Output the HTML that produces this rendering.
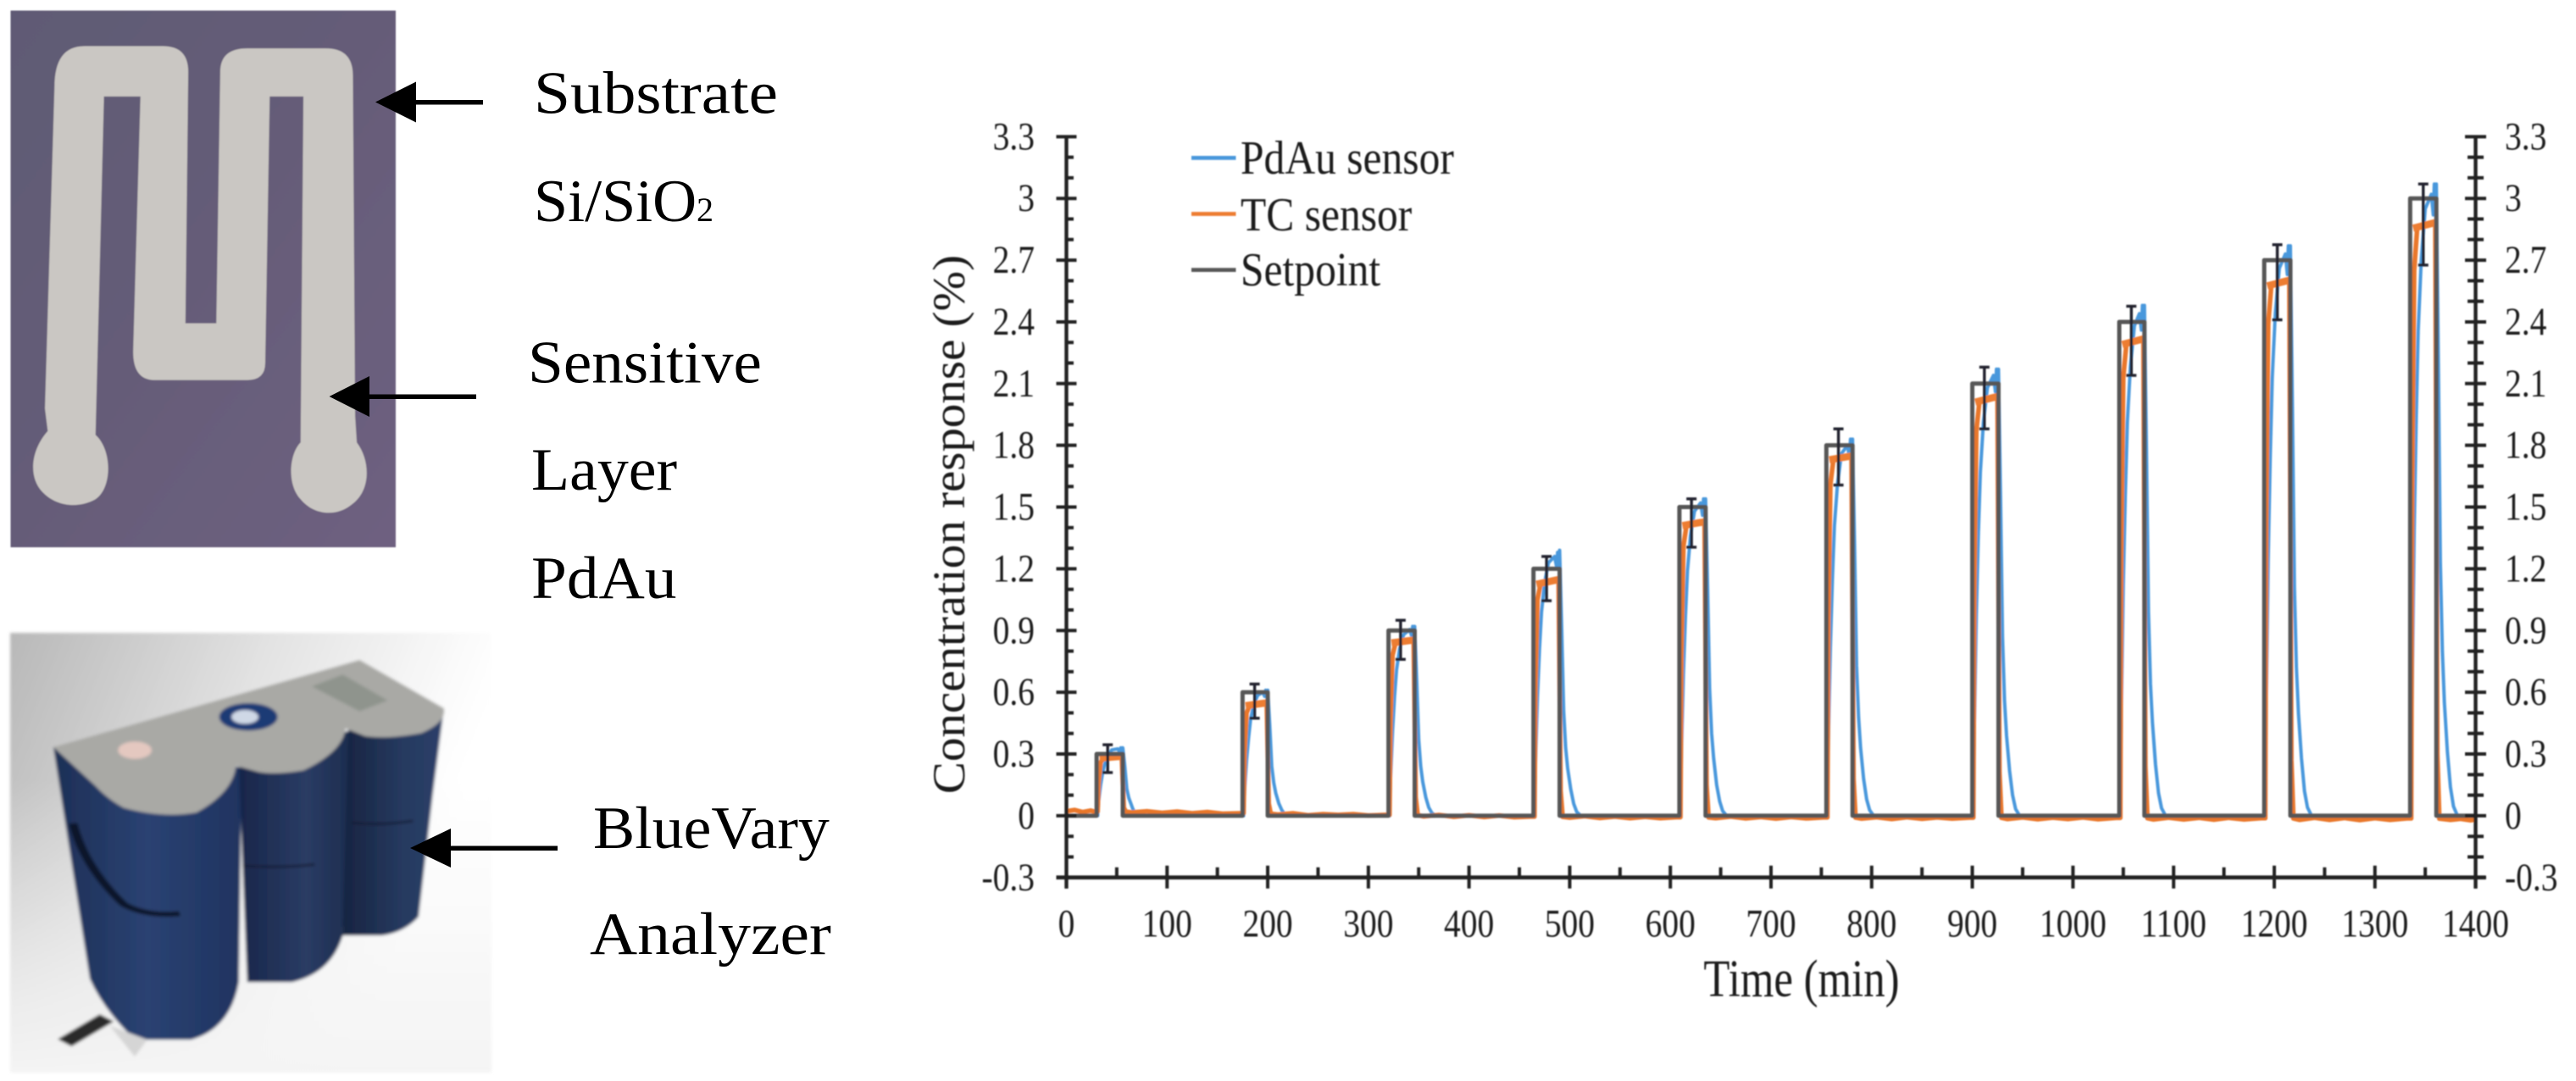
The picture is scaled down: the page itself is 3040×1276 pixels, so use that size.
<!DOCTYPE html>
<html lang="en">
<head>
<meta charset="utf-8">
<title>PdAu sensor and BlueVary analyzer concentration response</title>
<style>
html,body{margin:0;padding:0;background:#fff;}
svg{display:block;}
text{font-family:"Liberation Serif",serif;}
</style>
</head>
<body>
<svg id="figure" xmlns="http://www.w3.org/2000/svg" width="3040" height="1276" viewBox="0 0 3040 1276">
  <defs>
    <filter id="soft" filterUnits="userSpaceOnUse" x="0" y="0" width="3040" height="1276"><feGaussianBlur stdDeviation="0.9"/></filter>
    <filter id="softer" filterUnits="userSpaceOnUse" x="0" y="0" width="3040" height="1276"><feGaussianBlur stdDeviation="1.8"/></filter>
    <linearGradient id="substrateFill" x1="0" y1="0" x2="1" y2="1">
      <stop offset="0" stop-color="#5f5a74"/><stop offset="0.5" stop-color="#655c78"/><stop offset="1" stop-color="#6e6080"/>
    </linearGradient>
    <linearGradient id="photoBg" x1="0" y1="0" x2="0.95" y2="0.35">
      <stop offset="0" stop-color="#b8b8b8"/><stop offset="0.5" stop-color="#e2e2e2"/><stop offset="0.93" stop-color="#fdfdfd"/><stop offset="1" stop-color="#ffffff"/>
    </linearGradient>
    <linearGradient id="photoFloor" x1="0" y1="0" x2="0" y2="1">
      <stop offset="0" stop-color="#f4f4f4" stop-opacity="0"/><stop offset="1" stop-color="#f4f4f4" stop-opacity="1"/>
    </linearGradient>
    <linearGradient id="cylLeft" x1="0" y1="0" x2="1" y2="0">
      <stop offset="0" stop-color="#1d2f56"/><stop offset="0.5" stop-color="#2a4272"/><stop offset="1" stop-color="#1f3360"/>
    </linearGradient>
    <linearGradient id="cylMid" x1="0" y1="0" x2="1" y2="0">
      <stop offset="0" stop-color="#18264a"/><stop offset="0.6" stop-color="#2a3c64"/><stop offset="1" stop-color="#1c2c4e"/>
    </linearGradient>
    <linearGradient id="cylRight" x1="0" y1="0" x2="1" y2="0">
      <stop offset="0" stop-color="#172441"/><stop offset="0.6" stop-color="#263a60"/><stop offset="1" stop-color="#2b3f69"/>
    </linearGradient>
  </defs>

  <g id="sensor-photo" filter="url(#soft)">
    <rect x="12.5" y="12.5" width="454.5" height="633.5" fill="url(#substrateFill)"/>
    <path transform="scale(.6631,.4464)" fill="#cac7c3" d="M97 230 Q97 122 150 122 L290 122 Q335 122 335 190 L330 855 L385 855 L392 190 Q392 128 440 128 L580 128 Q628 128 628 200 L632 1100 L635 1170 C660 1220 660 1300 625 1335 C600 1365 560 1365 535 1320 C510 1280 515 1200 535 1170 L540 255 L480 255 L472 960 Q472 1005 440 1005 L275 1005 Q237 1005 237 930 L250 255 L185 255 L170 1150 C200 1190 200 1290 170 1320 C140 1345 100 1340 75 1300 C50 1260 55 1190 85 1140 L80 1080 Z"/>
  </g>

  <g id="analyzer-photo" filter="url(#softer)">
    <rect x="12" y="747" width="568" height="519" fill="url(#photoBg)"/>
    <rect x="12" y="920" width="568" height="346" fill="url(#photoFloor)"/>
    <g transform="translate(0,700) scale(.6631,.3674)">
      <path fill="url(#cylLeft)" d="M95 495 L430 560 L425 1250 Q410 1400 340 1435 L240 1435 Q185 1340 160 1240 Z"/>
      <path fill="url(#cylMid)" d="M425 560 L625 440 L610 1100 Q590 1220 520 1250 L440 1250 Z"/>
      <path fill="url(#cylRight)" d="M620 440 L790 370 L770 650 L745 1040 Q720 1090 680 1100 L610 1100 Z"/>
      <path fill="none" stroke="#131d36" stroke-width="7" d="M432 876 Q500 885 560 872"/>
      <path fill="none" stroke="#131d36" stroke-width="7" d="M625 738 Q680 748 735 732"/>
      <path fill="none" stroke="#0f1729" stroke-width="16" d="M130 740 Q150 880 220 1000 Q260 1040 320 1030"/>
      <path fill="#a9a9a5" d="M640 215 L790 370 Q795 415 750 450 Q690 470 650 460 L615 435 Q610 510 540 570 Q490 585 460 575 L420 555 Q415 640 350 705 Q290 725 220 690 Q190 660 170 620 L95 495 Z"/>
      <ellipse cx="442" cy="398" rx="52" ry="44" fill="#1c3a75"/>
      <ellipse cx="436" cy="398" rx="24" ry="22" fill="#cfd8e6"/>
      <ellipse cx="240" cy="505" rx="30" ry="28" fill="#e4c8c0"/>
      <path fill="#8f948d" d="M555 300 L610 262 L690 345 L640 380 Z"/>
      <path stroke="#2b2b2b" stroke-width="34" d="M115 1445 L190 1365"/>
      <path fill="#d5d5d5" d="M195 1390 L240 1490 L262 1435 Z"/>
    </g>
  </g>

  <g id="callouts" fill="#000">
    <g>
      <rect x="488" y="118" width="82" height="5.5"/><path d="M443 120.5 L491 96.5 L491 144.5 Z"/>
    </g>
    <g>
      <rect x="433" y="465.5" width="129" height="5.5"/><path d="M388.6 468 L436 444 L436 492 Z"/>
    </g>
    <g>
      <rect x="529" y="998.5" width="129" height="5.5"/><path d="M484 1001 L532 978 L532 1024 Z"/>
    </g>
    <text font-size="71" transform="translate(630,133.5) scale(1.09,1)">Substrate</text>
    <text font-size="71" transform="translate(630,261) scale(1.015,1)">Si/SiO</text>
    <text font-size="40" x="822" y="261">2</text>
    <text font-size="71" transform="translate(623,451.5) scale(1.06,1)">Sensitive</text>
    <text font-size="71" transform="translate(627,578) scale(1.04,1)">Layer</text>
    <text font-size="71" transform="translate(627,706) scale(1.06,1)">PdAu</text>
    <text font-size="71" transform="translate(700,1001) scale(1.04,1)">BlueVary</text>
    <text font-size="71" transform="translate(696,1126) scale(1.095,1)">Analyzer</text>
  </g>

  <g id="chart" filter="url(#soft)"></g>
</svg>

<script>
// ---- chart data ----
const xTickValues = [0,100,200,300,400,500,600,700,800,900,1000,1100,1200,1300,1400];
const xMinorTickValues = [50,150,250,350,450,550,650,750,850,950,1050,1150,1250,1350];
const yTickValues = [-0.3,0,0.3,0.6,0.9,1.2,1.5,1.8,2.1,2.4,2.7,3,3.3];
const yTickLabels = ["-0.3","0","0.3","0.6","0.9","1.2","1.5","1.8","2.1","2.4","2.7","3","3.3"];
const yMinorTickValues = [-0.2,-0.1,0.1,0.2,0.4,0.5,0.7,0.8,1.0,1.1,1.3,1.4,1.6,1.7,1.9,2.0,2.2,2.3,2.5,2.6,2.8,2.9,3.1,3.2];

const setpointStart = [30,175,320,464,609,755,900,1046,1190,1335];
const setpointEnd   = [56,200,346,490,635,781,926,1071,1216,1361];
const setpointLevel = [0.3,0.6,0.9,1.2,1.5,1.8,2.1,2.4,2.7,3.0];

const pdAuTimes = [0,
31,32,34,36,38,41,45,51,53,54,55,56,58,60,62,64,66,68,70,73,
176,177,179,181,183,186,190,195,197,198,199,200,202,204,206,208,211,214,217,221,
321,322,324,326,328,331,335,341,343,344,345,346,348,350,352,354,357,360,363,367,
465,466,468,470,472,475,479,485,487,488,489,490,492,494,496,498,501,504,507,511,
610,611,613,615,617,620,624,630,632,633,634,635,637,639,641,643,646,649,652,656,
756,757,759,761,763,766,770,776,778,779,780,781,783,785,787,789,792,795,798,802,
901,902,904,906,908,911,915,921,923,924,925,926,928,930,932,934,937,940,943,947,
1047,1048,1050,1052,1054,1057,1061,1066,1068,1069,1070,1071,1073,1075,1077,1079,1082,1085,1088,1092,
1191,1192,1194,1196,1198,1201,1205,1211,1213,1214,1215,1216,1218,1220,1222,1224,1227,1230,1233,1237,
1336,1337,1339,1341,1343,1346,1350,1356,1358,1359,1360,1361,1363,1365,1367,1369,1372,1375,1378,1382,
1400];
const pdAuValues = [0,
0,.07,.15,.21,.25,.29,.32,.325,.31,.33,.32,.33,.24,.13,.086,.06,.033,.015,.005,0,
0,.12,.27,.38,.47,.54,.585,.60,.58,.61,.585,.61,.44,.24,.16,.11,.06,.027,.009,0,
0,.18,.41,.58,.71,.81,.88,.905,.875,.92,.885,.92,.66,.37,.24,.165,.09,.04,.014,0,
0,.26,.58,.81,.99,1.13,1.23,1.26,1.21,1.28,1.23,1.29,.92,.51,.33,.23,.13,.058,.019,0,
0,.31,.69,.97,1.19,1.36,1.48,1.52,1.46,1.54,1.48,1.54,1.11,.62,.40,.28,.15,.07,.023,0,
0,.37,.82,1.15,1.41,1.61,1.76,1.80,1.74,1.83,1.76,1.83,1.32,.73,.48,.33,.18,.08,.027,0,
0,.43,.98,1.37,1.67,1.91,2.08,2.14,2.06,2.17,2.08,2.17,1.56,.87,.56,.39,.22,.10,.033,0,
0,.50,1.12,1.56,1.91,2.18,2.38,2.44,2.36,2.48,2.38,2.48,1.79,.99,.64,.45,.25,.11,.037,0,
0,.55,1.25,1.75,2.13,2.44,2.66,2.73,2.63,2.77,2.66,2.77,1.99,1.11,.72,.50,.28,.12,.04,0,
0,.61,1.38,1.93,2.36,2.70,2.95,3.02,2.92,3.07,2.95,3.07,2.21,1.23,.80,.55,.31,.14,.046,0,
0];

const tcTimes = [0,8,16,24,28,
31,32,34,37,55,57,59,
65,80,95,110,125,140,155,172,
176,177,179,182,199,201,203,
210,225,240,255,270,285,300,317,
321,322,324,327,345,347,349,
355,370,385,400,415,430,445,461,
465,466,468,471,489,491,493,
500,515,530,545,560,575,590,606,
610,611,613,616,634,636,638,
645,660,675,690,705,720,735,752,
756,757,759,762,780,782,784,
790,805,820,835,850,865,880,897,
901,902,904,907,925,927,929,
935,950,965,980,995,1010,1025,1043,
1047,1048,1050,1053,1070,1072,1074,
1080,1095,1110,1125,1140,1155,1170,1187,
1191,1192,1194,1197,1215,1217,1219,
1225,1240,1255,1270,1285,1300,1315,1332,
1336,1337,1339,1342,1360,1362,1364,
1375,1385,1395,1400];
const tcValues = [.022,.028,.018,.025,.02,
.02,.16,.26,.28,.29,.04,.02,
.016,.022,.014,.02,.012,.018,.01,.012,
.012,.30,.50,.535,.55,.06,.01,
.006,.012,.002,.008,.004,.008,.001,.004,
.004,.46,.78,.84,.855,.09,.003,
-.003,.004,-.005,.002,-.006,.001,-.007,-.004,
-.004,.62,1.05,1.125,1.15,.12,-.005,
-.009,-.002,-.011,-.004,-.012,-.005,-.012,-.007,
-.007,.78,1.31,1.41,1.43,.15,-.008,
-.012,-.004,-.013,-.006,-.014,-.006,-.013,-.008,
-.008,.95,1.61,1.73,1.75,.18,-.009,
-.014,-.007,-.016,-.007,-.015,-.008,-.014,-.009,
-.009,1.1,1.87,2.01,2.04,.21,-.01,
-.016,-.008,-.017,-.009,-.016,-.008,-.017,-.01,
-.01,1.26,2.13,2.29,2.32,.24,-.012,
-.018,-.009,-.018,-.01,-.019,-.01,-.018,-.012,
-.012,1.42,2.39,2.575,2.605,.27,-.013,
-.02,-.01,-.02,-.011,-.021,-.012,-.02,-.013,
-.013,1.57,2.65,2.855,2.885,.3,-.014,
-.02,-.015,-.022,-.018];

const tcPlateauStartTime  = [33,178,323,467,612,758,903,1049,1193,1338];
const tcPlateauEndTime    = [57,201,347,491,636,782,927,1072,1217,1362];
const tcPlateauStartValue = [.28,.535,.84,1.125,1.41,1.73,2.01,2.29,2.575,2.855];
const tcPlateauEndValue   = [.29,.55,.855,1.15,1.43,1.75,2.04,2.32,2.605,2.885];

const errorBarTime  = [41,187,332,477,621,767,912,1058,1203,1348];
const errorBarHigh  = [.345,.64,.95,1.26,1.54,1.88,2.18,2.476,2.775,3.07];
const errorBarLow   = [.21,.474,.76,1.045,1.305,1.607,1.88,2.14,2.41,2.676];

const legendLabels = ["PdAu sensor","TC sensor","Setpoint"];
const legendColors = ["#4a98dc","#ed7d31","#595959"];

// ---- axis functions ----
const xScale = t => 1258.5 + (2921.5 - 1258.5) * t / 1400;
const yScale = v => 962.9 - 242.9 * v;

const NS = "http://www.w3.org/2000/svg";
const chart = document.getElementById("chart");
function mk(tag, attrs, parent) {
  const el = document.createElementNS(NS, tag);
  for (const k in attrs) el.setAttribute(k, attrs[k]);
  (parent || chart).appendChild(el);
  return el;
}
function polyPoints(ts, vs) {
  return ts.map((t, i) => xScale(t).toFixed(2) + "," + yScale(vs[i]).toFixed(2)).join(" ");
}

// ---- series ----
const pdAuLine = mk("polyline", {points: polyPoints(pdAuTimes, pdAuValues), fill: "none", stroke: "#4a98dc", "stroke-width": 4, "stroke-linejoin": "round"});



const tcLine = mk("polyline", {points: polyPoints(tcTimes, tcValues), fill: "none", stroke: "#e9772b", "stroke-width": 5.5, "stroke-linejoin": "round"});



setpointLevel.forEach((lv, i) => {
  const band = mk("line", {x1: xScale(tcPlateauStartTime[i]), x2: xScale(tcPlateauEndTime[i]), y1: yScale(tcPlateauStartValue[i]), y2: yScale(tcPlateauEndValue[i]), stroke: "#ed7d31", "stroke-width": 8.5});
  
  
});

const setpointTimes = [0], setpointValues = [0];
setpointLevel.forEach((lv, i) => {
  setpointTimes.push(setpointStart[i], setpointStart[i], setpointEnd[i], setpointEnd[i]);
  setpointValues.push(0, lv, lv, 0);
});
setpointTimes.push(1400);
setpointValues.push(0);
const setpointLine = mk("polyline", {points: polyPoints(setpointTimes, setpointValues), fill: "none", stroke: "#575757", "stroke-width": 5, "stroke-linejoin": "round"});



errorBarTime.forEach((t, i) => {
  const g = mk("g", {stroke: "#20242e", "stroke-width": 3.4, fill: "none"});
  
  
  mk("line", {x1: xScale(t), x2: xScale(t), y1: yScale(errorBarHigh[i]), y2: yScale(errorBarLow[i])}, g);
  mk("line", {x1: xScale(t) - 6, x2: xScale(t) + 6, y1: yScale(errorBarHigh[i]), y2: yScale(errorBarHigh[i])}, g);
  mk("line", {x1: xScale(t) - 6, x2: xScale(t) + 6, y1: yScale(errorBarLow[i]), y2: yScale(errorBarLow[i])}, g);
});

// ---- axes ----
const axes = mk("g", {stroke: "#202020", "stroke-width": 4, fill: "none"});


const yBottom = yScale(-0.3), yTop = yScale(3.3), xLeft = xScale(0), xRight = xScale(1400);

const xAxisLine = mk("line", {x1: xLeft - 12, x2: xRight + 12, y1: yBottom, y2: yBottom, "stroke-width": 4.8}, axes);


const leftAxisLine = mk("line", {x1: xLeft, x2: xLeft, y1: yTop, y2: yBottom + 13, "stroke-width": 4.4}, axes);


const rightAxisLine = mk("line", {x1: xRight, x2: xRight, y1: yTop, y2: yBottom + 13, "stroke-width": 4.4}, axes);



const labelStyle = {fill: "#1c1c1c", "font-size": 47};
xTickValues.forEach(v => {
  const tick = mk("line", {x1: xScale(v), x2: xScale(v), y1: yBottom - 14, y2: yBottom + 13}, axes);
  
  
  const label = mk("text", {...labelStyle, "text-anchor": "middle", transform: `translate(${xScale(v)},1105.5) scale(.84,1)`});
  label.textContent = String(v);
  
  
});
xMinorTickValues.forEach(v => {
  const tick = mk("line", {x1: xScale(v), x2: xScale(v), y1: yBottom - 12, y2: yBottom}, axes);
  
  
});
yTickValues.forEach((v, i) => {
  const leftTick = mk("line", {x1: xLeft - 12, x2: xLeft + 12, y1: yScale(v), y2: yScale(v)}, axes);
  
  
  const rightTick = mk("line", {x1: xRight - 12.5, x2: xRight + 12.5, y1: yScale(v), y2: yScale(v)}, axes);
  
  
  const leftLabel = mk("text", {...labelStyle, "text-anchor": "end", transform: `translate(1221,${yScale(v) + 15}) scale(.84,1)`});
  leftLabel.textContent = yTickLabels[i];
  
  
  const rightLabel = mk("text", {...labelStyle, "text-anchor": "start", transform: `translate(2956,${yScale(v) + 15}) scale(.84,1)`});
  rightLabel.textContent = yTickLabels[i];
  
  
});
yMinorTickValues.forEach(v => {
  const leftTick = mk("line", {x1: xLeft, x2: xLeft + 8.5, y1: yScale(v), y2: yScale(v)}, axes);
  
  
  const rightTick = mk("line", {x1: xRight - 9.5, x2: xRight + 9.5, y1: yScale(v), y2: yScale(v)}, axes);
  
  
});

// ---- titles ----
const yTitle = mk("text", {fill: "#1c1c1c", "font-size": 57, "text-anchor": "middle", transform: "translate(1138,619) rotate(-90) scale(1,.95)"});
yTitle.textContent = "Concentration response (%)";


const xTitle = mk("text", {fill: "#1c1c1c", "font-size": 62, "text-anchor": "middle", transform: "translate(2126,1176) scale(.82,1)"});
xTitle.textContent = "Time (min)";



// ---- legend ----
const legendLineY = [186.4, 252.5, 318.6];
const legendTextY = [205, 271.8, 337];
legendLabels.forEach((name, i) => {
  const g = mk("g", {});
  
  
  const swatch = mk("line", {x1: 1406, x2: 1458.5, y1: legendLineY[i], y2: legendLineY[i], stroke: legendColors[i], "stroke-width": 4.8}, g);
  
  
  const label = mk("text", {fill: "#1c1c1c", "font-size": 56, transform: `translate(1464,${legendTextY[i]}) scale(.885,1)`}, g);
  label.textContent = name;
  
  
});
</script>
</body>
</html>
